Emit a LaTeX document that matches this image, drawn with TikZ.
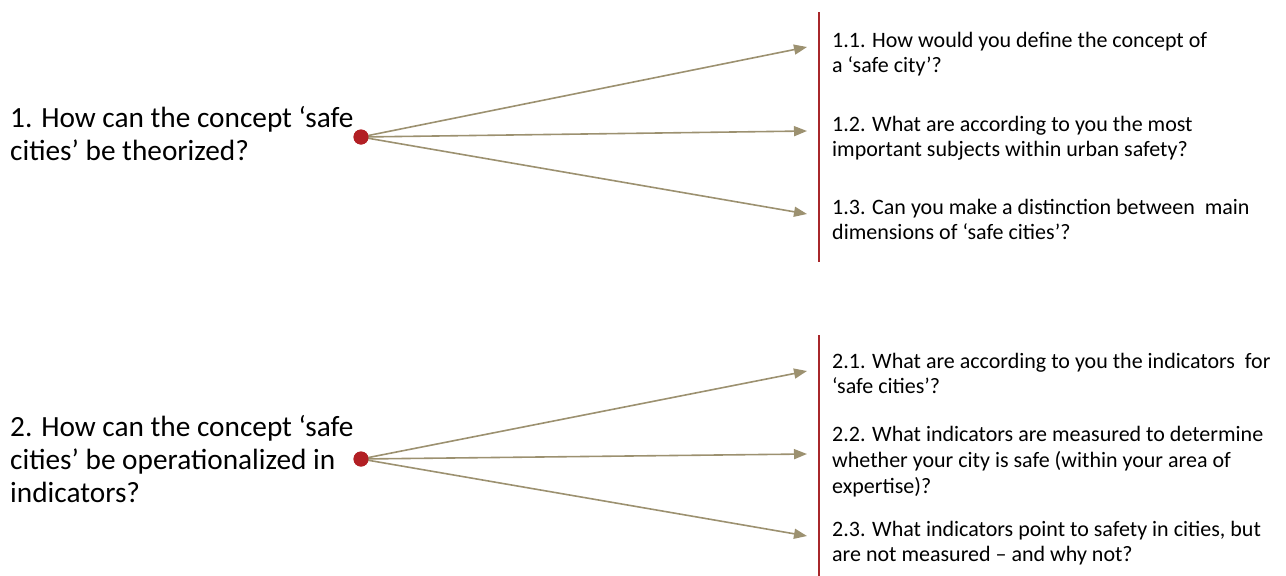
\documentclass[tikz,border=0pt]{standalone}
\usepackage{fontspec}
\setmainfont{Carlito}
\usetikzlibrary{arrows.meta}
\definecolor{arrowc}{HTML}{9C9170}
\definecolor{dotc}{HTML}{B21F24}
\definecolor{barc}{HTML}{A8272B}
\tikzset{
  main/.style={anchor=base west, inner sep=0pt, align=left, font=\fontsize{29.3}{33}\selectfont},
  sub/.style={anchor=base west, inner sep=0pt, align=left, font=\fontsize{22}{24.5}\selectfont},
  hub/.style={circle, fill=dotc, minimum size=15pt, inner sep=0pt},
  branch/.style={draw=arrowc, line width=1.6pt, -{Triangle[length=13pt,width=10pt]}},
  bar/.style={draw=barc, line width=1.3pt}
}
\begin{document}
\begin{tikzpicture}[x=1pt,y=-1pt]
\useasboundingbox (0,0) rectangle (1286,576);
% group 1 (base anchor = last line baseline)
\node[main] (q1) at (10,160) {1. How can the concept ‘safe\\cities’ be theorized?};
\node[hub] (d1) at (361,137) {};
\coordinate (e11) at (807,47);
\coordinate (e12) at (807,131);
\coordinate (e13) at (807,214);
\draw[branch] (d1.center) -- (e11);
\draw[branch] (d1.center) -- (e12);
\draw[branch] (d1.center) -- (e13);
\coordinate (b1t) at (819,12);
\coordinate (b1b) at (819,262);
\draw[bar] (b1t) -- (b1b);
\node[sub] (s11) at (832,72) {1.1. How would you define the concept of\\a ‘safe city’?};
\node[sub] (s12) at (832,156) {1.2. What are according to you the most\\important subjects within urban safety?};
\node[sub] (s13) at (832,239) {1.3. Can you make a distinction between~ main\\dimensions of ‘safe cities’?};
% group 2
\node[main] (q2) at (10,502) {2. How can the concept ‘safe\\cities’ be operationalized in\\indicators?};
\node[hub] (d2) at (361,459) {};
\coordinate (e21) at (807,371);
\coordinate (e22) at (807,454);
\coordinate (e23) at (807,536);
\draw[branch] (d2.center) -- (e21);
\draw[branch] (d2.center) -- (e22);
\draw[branch] (d2.center) -- (e23);
\coordinate (b2t) at (819,335);
\coordinate (b2b) at (819,576);
\draw[bar] (b2t) -- (b2b);
\node[sub] (s21) at (832,393) {2.1. What are according to you the indicators~ for\\‘safe cities’?};
\node[sub,font=\fontsize{22}{26}\selectfont] (s22) at (832,493) {2.2. What indicators are measured to determine\\whether your city is safe (within your area of\\expertise)?};
\node[sub] (s23) at (832,561) {2.3. What indicators point to safety in cities, but\\are not measured – and why not?};
\node[hub] at (d1) {};
\node[hub] at (d2) {};
\end{tikzpicture}
\end{document}
